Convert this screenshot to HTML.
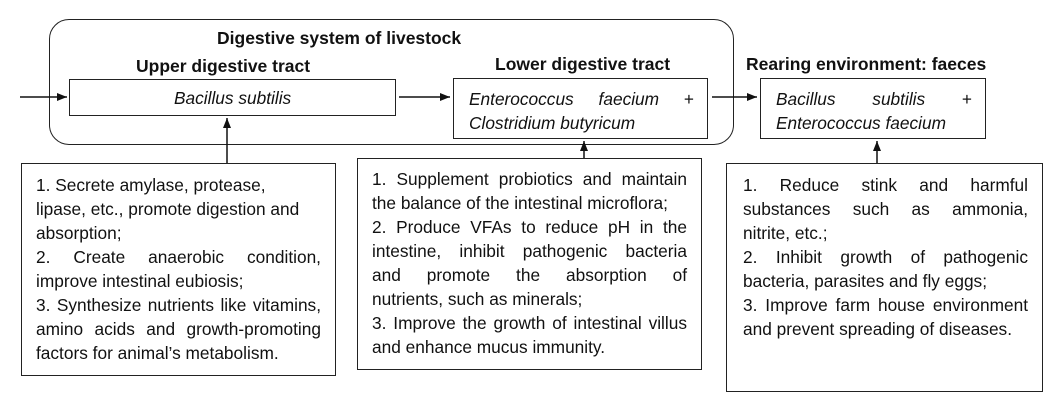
<!DOCTYPE html>
<html><head><meta charset="utf-8"><style>
body{margin:0;width:1056px;height:401px;background:#fff;position:relative;overflow:hidden;font-family:"Liberation Sans",Arial,sans-serif;color:#111}
.a{position:absolute;box-sizing:border-box}
.b{border:1.5px solid #222;background:#fff}
.t{font-weight:bold;font-size:17.5px;position:absolute;white-space:nowrap}
.l{position:absolute;font-size:17.3px;line-height:24px;white-space:nowrap}
.j{text-align:justify;text-align-last:justify;white-space:normal}
i{font-style:italic}
</style></head><body>
<div class="a" style="left:49px;top:19px;width:685px;height:126px;border:1.5px solid #222;border-radius:20px"></div>
<div class="t" style="left:217px;top:28px">Digestive system of livestock</div>
<div class="t" style="left:136px;top:56px">Upper digestive tract</div>
<div class="t" style="left:495px;top:54px">Lower digestive tract</div>
<div class="t" style="left:746px;top:54px">Rearing environment: faeces</div>

<div class="a b" style="left:69px;top:79px;width:327px;height:37px"></div>
<div class="l" style="left:174px;top:86px"><i>Bacillus subtilis</i></div>
<div class="a b" style="left:453px;top:78px;width:255px;height:61px"></div>
<div class="l j" style="left:469px;top:87px;width:225px"><i>Enterococcus faecium</i> +</div>
<div class="l" style="left:469px;top:111px"><i>Clostridium butyricum</i></div>
<div class="a b" style="left:760px;top:78px;width:226px;height:61px"></div>
<div class="l j" style="left:776px;top:87px;width:196px"><i>Bacillus subtilis</i> +</div>
<div class="l" style="left:776px;top:111px"><i>Enterococcus faecium</i></div>

<svg class="a" style="left:0;top:0" width="1056" height="401">
<defs><marker id="m" markerWidth="10" markerHeight="8" refX="10" refY="4" orient="auto" markerUnits="userSpaceOnUse"><path d="M0,0L10,4L0,8z" fill="#111"/></marker></defs>
<g stroke="#111" stroke-width="1.5" fill="none">
<line x1="20" y1="97" x2="67" y2="97" marker-end="url(#m)"/>
<line x1="399" y1="97" x2="450" y2="97" marker-end="url(#m)"/>
<line x1="712" y1="97" x2="757" y2="97" marker-end="url(#m)"/>
<line x1="227" y1="163" x2="227" y2="118" marker-end="url(#m)"/>
<line x1="584" y1="158" x2="584" y2="141" marker-end="url(#m)"/>
<line x1="877" y1="163" x2="877" y2="141" marker-end="url(#m)"/>
</g></svg>

<div class="a b" style="left:21px;top:163px;width:315px;height:213px"></div>
<div class="l" style="left:36px;top:173px">1. Secrete amylase, protease,</div>
<div class="l" style="left:36px;top:197px">lipase, etc., promote digestion and</div>
<div class="l" style="left:36px;top:221px">absorption;</div>
<div class="l j" style="left:36px;top:245px;width:285px">2. Create anaerobic condition,</div>
<div class="l" style="left:36px;top:269px">improve intestinal eubiosis;</div>
<div class="l j" style="left:36px;top:293px;width:285px">3. Synthesize nutrients like vitamins,</div>
<div class="l j" style="left:36px;top:317px;width:285px">amino acids and growth-promoting</div>
<div class="l" style="left:36px;top:341px">factors for animal’s metabolism.</div>

<div class="a b" style="left:357px;top:158px;width:345px;height:212px"></div>
<div class="l j" style="left:372px;top:167px;width:315px">1. Supplement probiotics and maintain</div>
<div class="l" style="left:372px;top:191px">the balance of the intestinal microflora;</div>
<div class="l j" style="left:372px;top:215px;width:315px">2. Produce VFAs to reduce pH in the</div>
<div class="l j" style="left:372px;top:239px;width:315px">intestine, inhibit pathogenic bacteria</div>
<div class="l j" style="left:372px;top:263px;width:315px">and promote the absorption of</div>
<div class="l" style="left:372px;top:287px">nutrients, such as minerals;</div>
<div class="l j" style="left:372px;top:311px;width:315px">3. Improve the growth of intestinal villus</div>
<div class="l" style="left:372px;top:335px">and enhance mucus immunity.</div>

<div class="a b" style="left:726px;top:163px;width:317px;height:229px"></div>
<div class="l j" style="left:743px;top:173px;width:285px">1. Reduce stink and harmful</div>
<div class="l j" style="left:743px;top:197px;width:285px">substances such as ammonia,</div>
<div class="l" style="left:743px;top:221px">nitrite, etc.;</div>
<div class="l j" style="left:743px;top:245px;width:285px">2. Inhibit growth of pathogenic</div>
<div class="l" style="left:743px;top:269px">bacteria, parasites and fly eggs;</div>
<div class="l j" style="left:743px;top:293px;width:285px">3. Improve farm house environment</div>
<div class="l" style="left:743px;top:317px">and prevent spreading of diseases.</div>
</body></html>
